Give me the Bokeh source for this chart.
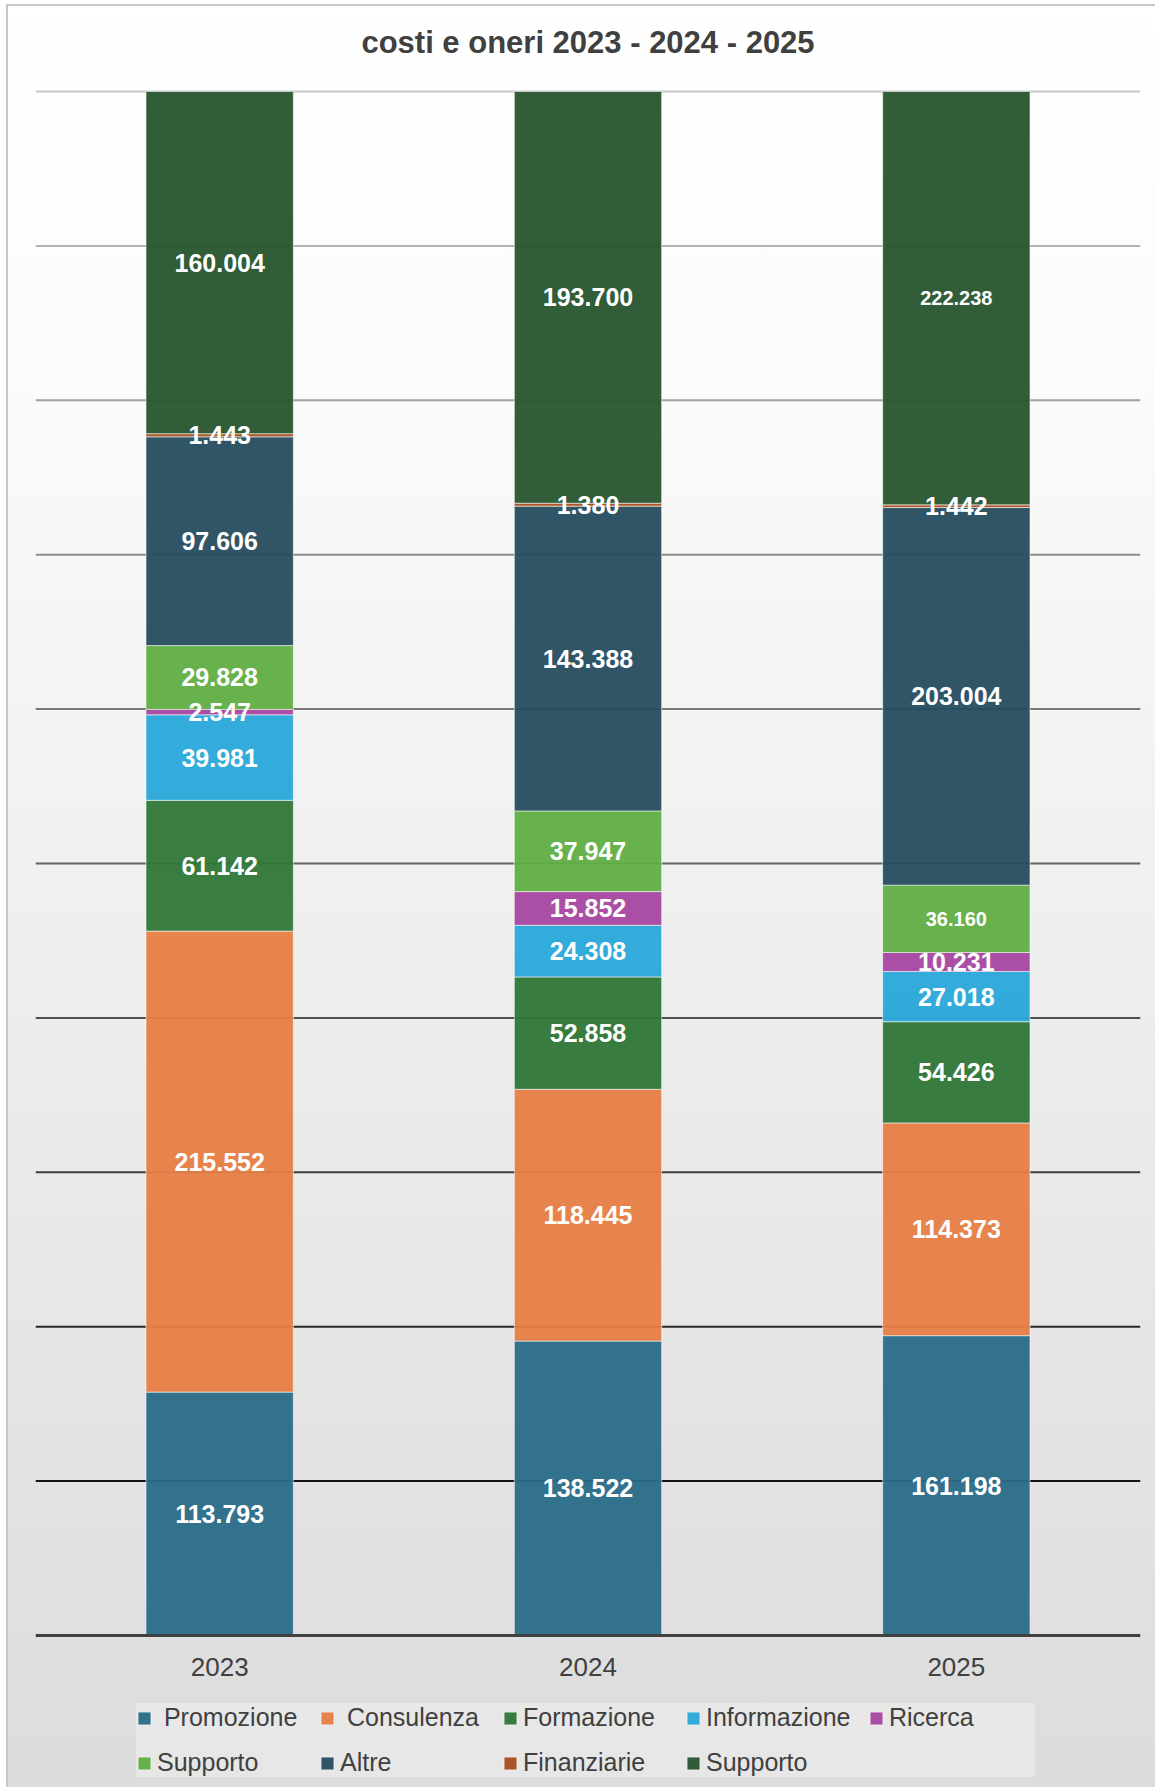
import numpy as np
from bokeh.plotting import figure
from bokeh.models import (ColumnDataSource, FactorRange, Range1d, Span, Legend,
                          LegendItem, Label)
from bokeh.core.properties import value
from bokeh.embed import file_html
from bokeh.resources import INLINE

# ---- data ----
years = ["2023", "2024", "2025"]
promozione = [113793, 138522, 161198]
consulenza = [215552, 118445, 114373]
formazione = [61142, 52858, 54426]
informazione = [39981, 24308, 27018]
ricerca = [2547, 15852, 10231]
supporto_a = [29828, 37947, 36160]
altre = [97606, 143388, 203004]
finanziarie = [1443, 1380, 1442]
supporto_b = [160004, 193700, 222238]

series_keys = ["promozione", "consulenza", "formazione", "informazione", "ricerca",
               "supporto_a", "altre", "finanziarie", "supporto_b"]
series_names = ["Promozione", "Consulenza", "Formazione", "Informazione", "Ricerca",
                "Supporto", "Altre", "Finanziarie", "Supporto"]
series_values = [promozione, consulenza, formazione, informazione, ricerca,
                 supporto_a, altre, finanziarie, supporto_b]
title_text = "costi e oneri 2023 - 2024 - 2025"

# ---- styles / layout ----
colors = ["#296B88", "#E77D44", "#2E7636", "#28A6D9", "#A546A0",
          "#5FAE42", "#254C5E", "#A64C1F", "#26542D"]
legend_labels = ["\u00a0" + series_names[0], "\u00a0" + series_names[1]] + series_names[2:]
small_labels = {("2025", "supporto_a"), ("2025", "supporto_b")}
FONT = "Liberation Sans"
TXT = "#404040"
W, H = 1155, 1787
PLOT_TOP, PLOT_BOTTOM = 91, 1635          # pixel rows of 100% and 0%
PX = PLOT_BOTTOM - PLOT_TOP               # pixels per unit share

vals = {k: np.array(v, dtype=float) for k, v in zip(series_keys, series_values)}
totals = np.sum([vals[k] for k in series_keys], axis=0)
shares = {k: vals[k] / totals for k in series_keys}

src = ColumnDataSource(dict(years=years, **{k: shares[k] for k in series_keys}))

# label positions (middle of each segment)
lx, ly, lt, ls = [], [], [], []
for j, yr in enumerate(years):
    bottom = 0.0
    for k in series_keys:
        s = shares[k][j]
        lx.append(yr)
        ly.append(bottom + s / 2)
        lt.append(f"{int(vals[k][j]):,}".replace(",", "."))
        ls.append("20px" if (yr, k) in small_labels else "25px")
        bottom += s
lab_src = ColumnDataSource(dict(x=lx, y=ly, text=lt, size=ls))
tick_src = ColumnDataSource(dict(x=years, y=[-31 / PX] * len(years), text=years))

p = figure(
    x_range=FactorRange(factors=years, range_padding=0),
    y_range=Range1d(-(H - PLOT_BOTTOM) / PX, 1 + PLOT_TOP / PX),
    width=W, height=H,
    output_backend="svg", toolbar_location=None,
    x_axis_location=None, y_axis_location=None,
    min_border_left=35, min_border_right=15, min_border_top=0, min_border_bottom=0,
    background_fill_color=None, border_fill_color=None, outline_line_color=None,
    styles={
        "background": "linear-gradient(180deg, #ffffff 0%, #fcfcfc 18%, #dcdcdc 100%)",
        "box-shadow": "inset 6px 4px 0 0 #ffffff, inset 8px 6px 0 0 #c8c8c8",
    },
)
p.xgrid.visible = False
p.ygrid.visible = False

# gridlines with darkening colour towards bottom
light = np.array([0xC8, 0xC8, 0xC8])
dark = np.array([0x14, 0x14, 0x14])
for i in range(1, 11):
    t = (10 - i) / 9
    c = light + (dark - light) * t
    col = "#%02x%02x%02x" % tuple(int(round(v)) for v in c)
    p.add_layout(Span(location=i / 10, dimension="width", line_color=col,
                      line_width=2, level="underlay"))

rs = p.vbar_stack(series_keys, x="years", width=0.4, source=src,
                  fill_color=colors, fill_alpha=0.95,
                  line_color="white", line_alpha=0.55, line_width=1)

# category axis line
p.add_layout(Span(location=0, dimension="width", line_color=TXT, line_width=3))

# category labels
p.text(x="x", y="y", text="text", source=tick_src, text_color=TXT,
       text_font=value(FONT), text_font_size="26px",
       text_align="center", text_baseline="middle")

# value labels
p.text(x="x", y="y", text="text", source=lab_src, text_color="white",
       text_font=value(FONT), text_font_style="bold", text_font_size="size",
       text_align="center", text_baseline="middle")

# title
p.add_layout(Label(x=len(years) / 2, y=1 + (PLOT_TOP - 42) / PX, text=title_text,
                   text_font=FONT, text_font_style="bold", text_font_size="31px",
                   text_color=TXT, text_align="center", text_baseline="middle"))

legend = Legend(
    items=[LegendItem(label=lbl, renderers=[r]) for lbl, r in zip(legend_labels, rs)],
    location=(101, 10), orientation="horizontal", ncols=5,
    label_text_font=FONT, label_text_font_size="25px", label_text_color=TXT,
    glyph_width=16, glyph_height=16, label_standoff=5,
    label_width=146, label_height=29, spacing=16, padding=8, margin=0,
    background_fill_color="white", background_fill_alpha=0.3,
    border_line_color=None,
)
p.add_layout(legend, "center")

open("out.html", "w").write(file_html(p, INLINE))
